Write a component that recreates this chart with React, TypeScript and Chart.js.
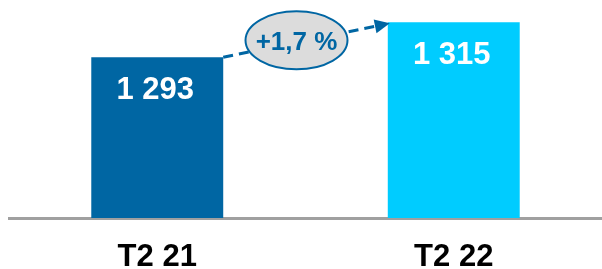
import React, { useEffect, useRef } from "react";
import { Chart, registerables } from "chart.js";

Chart.register(...registerables);

const categories = ["T2 21", "T2 22"];
const values = [1293, 1315];
const barColors = ["#0066A3", "#00CCFF"];
const yMin = 1192;
const yMax = 1329;

const FONT = "'Liberation Sans', Arial, Helvetica, sans-serif";

const fmt = (v: number) => String(v).replace(/\B(?=(\d{3})+(?!\d))/g, " ");

const overlayPlugin = {
  id: "overlay",
  afterDatasetsDraw(chart: any) {
    const ctx = chart.ctx;
    const meta = chart.getDatasetMeta(0);
    const bars = meta.data;
    ctx.save();
    // value labels
    ctx.font = `bold 31px ${FONT}`;
    ctx.fillStyle = "#FFFFFF";
    ctx.textAlign = "center";
    ctx.textBaseline = "alphabetic";
    bars.forEach((b: any, i: number) => {
      ctx.fillText(fmt(values[i]), b.x - 2, b.y + 42);
    });
    // dashed arrow from bar1 top-right to bar2 top-left
    const b0 = bars[0];
    const b1 = bars[1];
    const x0 = b0.x + b0.width / 2;
    const y0 = b0.y;
    const x1 = b1.x - b1.width / 2 + 2;
    const y1 = b1.y + 1;
    const ang = Math.atan2(y1 - y0, x1 - x0);
    const headLen = 15;
    const headW = 7;
    const lx = x1 - Math.cos(ang) * (headLen - 2);
    const ly = y1 - Math.sin(ang) * (headLen - 2);
    ctx.strokeStyle = "#0066A3";
    ctx.lineWidth = 3;
    ctx.setLineDash([10, 6]);
    ctx.beginPath();
    ctx.moveTo(x0, y0);
    ctx.lineTo(lx, ly);
    ctx.stroke();
    ctx.setLineDash([]);
    ctx.fillStyle = "#0066A3";
    const bx = x1 - Math.cos(ang) * headLen;
    const by = y1 - Math.sin(ang) * headLen;
    ctx.beginPath();
    ctx.moveTo(x1, y1);
    ctx.lineTo(bx + Math.sin(ang) * headW, by - Math.cos(ang) * headW);
    ctx.lineTo(bx - Math.sin(ang) * headW, by + Math.cos(ang) * headW);
    ctx.closePath();
    ctx.fill();
    // ellipse with growth label
    const cx = (x0 + x1) / 2 - 10;
    const cy = (y0 + y1) / 2;
    ctx.beginPath();
    ctx.ellipse(cx, cy, 51, 29, 0, 0, Math.PI * 2);
    ctx.fillStyle = "#DCDCDC";
    ctx.fill();
    ctx.lineWidth = 2;
    ctx.strokeStyle = "#0066A3";
    ctx.stroke();
    const pct = ((values[1] / values[0] - 1) * 100).toFixed(1).replace(".", ",");
    ctx.font = `bold 26px ${FONT}`;
    ctx.fillStyle = "#0066A3";
    ctx.textAlign = "center";
    ctx.fillText(`+${pct} %`, cx, cy + 10);
    ctx.restore();
  },
};

export default function App() {
  const ref = useRef<HTMLCanvasElement>(null);
  useEffect(() => {
    document.body.style.margin = "0";
    const chart = new Chart(ref.current!, {
      type: "bar",
      data: {
        labels: categories,
        datasets: [
          {
            data: values,
            backgroundColor: barColors,
            borderWidth: 0,
            categoryPercentage: 1,
            barPercentage: 0.445,
          },
        ],
      },
      options: {
        animation: false,
        responsive: false,
        layout: { padding: { left: 9, right: -7, top: 0, bottom: -27 } },
        plugins: { legend: { display: false }, tooltip: { enabled: false } },
        scales: {
          x: {
            grid: { display: false, drawTicks: false },
            border: { display: true, color: "#A0A0A0", width: 3 },
            ticks: {
              color: "#000000",
              padding: 21,
              font: { family: FONT, size: 31, weight: "bold", lineHeight: 1.16 },
            },
          },
          y: {
            display: false,
            min: yMin,
            max: yMax,
          },
        },
      },
      plugins: [overlayPlugin],
    });
    return () => chart.destroy();
  }, []);
  return (
    <div style={{ position: "absolute", left: 0, top: 0, width: 602, height: 269 }}>
      <canvas ref={ref} width={602} height={269} />
    </div>
  );
}
